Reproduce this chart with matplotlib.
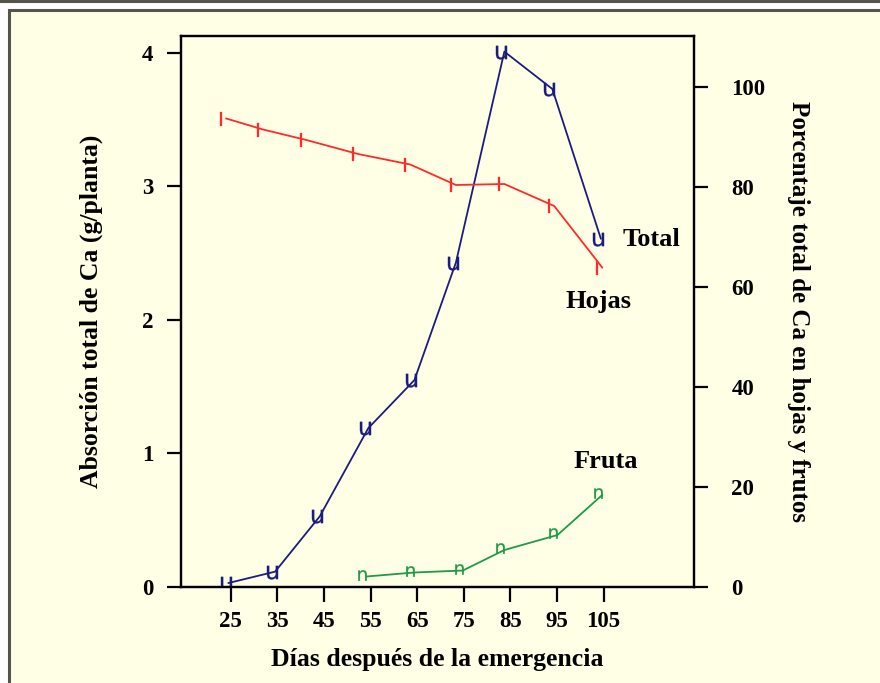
import matplotlib
matplotlib.use("Agg")
import matplotlib.pyplot as plt
from matplotlib.patches import Rectangle
from matplotlib.lines import Line2D
from matplotlib.transforms import ScaledTranslation

# days after emergence (as plotted) and values
dias_total = [24.5, 34.5, 44.1, 54.5, 64.4, 73.3, 83.7, 94.0, 104.4]
total = [0.03, 0.115, 0.53, 1.19, 1.55, 2.43, 4.01, 3.73, 2.61]

dias_hojas = [24.0, 31.9, 41.2, 52.3, 63.5, 73.3, 83.7, 94.4, 104.7]
hojas = [93.7, 91.5, 89.4, 86.6, 84.5, 80.4, 80.6, 76.2, 63.9]

dias_fruta = [54.1, 64.4, 74.8, 83.7, 95.1, 104.7]
fruta = [2.1, 2.9, 3.3, 7.4, 10.4, 18.4]

xticks = [25, 35, 45, 55, 65, 75, 85, 95, 105]
left_ticks = [0, 1, 2, 3, 4]
right_ticks = [0, 20, 40, 60, 80, 100]

bg = "#FFFFE6"
navy = "#1C1C80"
red = "#FF2A2A"
green = "#1E9A48"
serif = ["Liberation Serif", "DejaVu Serif"]

fig = plt.figure(figsize=(8.8, 6.83), dpi=100, facecolor="white")

# outer frame
fig.patches.append(Rectangle((9 / 880, -0.05), 1.0, 1 - 10 / 683 + 0.05,
                             transform=fig.transFigure, facecolor=bg,
                             edgecolor="#55554A", linewidth=2.2, zorder=-2))
fig.lines.append(Line2D([0, 1], [1 - 1 / 683, 1 - 1 / 683], transform=fig.transFigure,
                        color="#55554A", linewidth=2.2, zorder=-2))

ax = fig.add_axes([181 / 880, 1 - 587 / 683, (694 - 181) / 880, (587 - 36) / 683])
ax.set_facecolor(bg)
ax2 = ax.twinx()

ax.set_xlim(14.3, 124.4)
ax.set_ylim(0, 4.127)
ax2.set_ylim(0, 110.2)

def shifted(a, dx, dy=0):
    return a.transData + ScaledTranslation(dx / 100, dy / 100, fig.dpi_scale_trans)

# Total (left axis)
ax.plot(dias_total, total, color=navy, lw=1.3, zorder=3)
ax.plot(dias_total, total, ls="none", marker=r"$\mathsf{u}$", ms=10, mew=0.2, color=navy,
        transform=shifted(ax, -3), zorder=4)

# Hojas and Fruta (right axis)
ax2.plot(dias_hojas, hojas, color=red, lw=1.3, zorder=3)
ax2.plot(dias_hojas, hojas, ls="none", marker=r"$\mathsf{l}$", ms=10, mew=0.2, color=red,
         transform=shifted(ax2, -5), zorder=4)
ax2.plot(dias_fruta, fruta, color=green, lw=1.3, zorder=3)
ax2.plot(dias_fruta, fruta, ls="none", marker=r"$\mathsf{n}$", ms=7.5, mew=0.2, color=green,
         transform=shifted(ax2, -4, 2), zorder=4)

ax.set_xticks(xticks)
ax.set_xticklabels([str(v) for v in xticks])
ax.set_yticks(left_ticks)
ax2.set_yticks(right_ticks)

for a in (ax, ax2):
    for s in a.spines.values():
        s.set_linewidth(1.6)
        s.set_color("black")

ax.tick_params(axis="x", direction="out", length=11, width=1.6, pad=6)
ax.tick_params(axis="y", direction="out", length=10, width=1.6, pad=10)
ax2.tick_params(axis="y", direction="out", length=10, width=1.6, pad=17)

for lab in ax.get_xticklabels() + ax.get_yticklabels() + ax2.get_yticklabels():
    lab.set_fontfamily(serif)
    lab.set_fontweight("bold")
    lab.set_fontsize(16.5)

ax.set_xlabel("Días después de la emergencia", family=serif, weight="bold", fontsize=18.5,
              labelpad=12)
ax.set_ylabel("Absorción total de Ca (g/planta)", family=serif, weight="bold", fontsize=18.5,
              labelpad=28)
ax2.set_ylabel("Porcentaje total de Ca en hojas y frutos", family=serif, weight="bold",
               fontsize=18, rotation=-90, labelpad=32)

fig.text(651 / 880, 1 - 240 / 683, "Total", family=serif, weight="bold", fontsize=19,
         ha="center", va="center")
fig.text(598 / 880, 1 - 302 / 683, "Hojas", family=serif, weight="bold", fontsize=19,
         ha="center", va="center")
fig.text(606 / 880, 1 - 462 / 683, "Fruta", family=serif, weight="bold", fontsize=19,
         ha="center", va="center")

fig.savefig("out.png", dpi=100, facecolor="white")
